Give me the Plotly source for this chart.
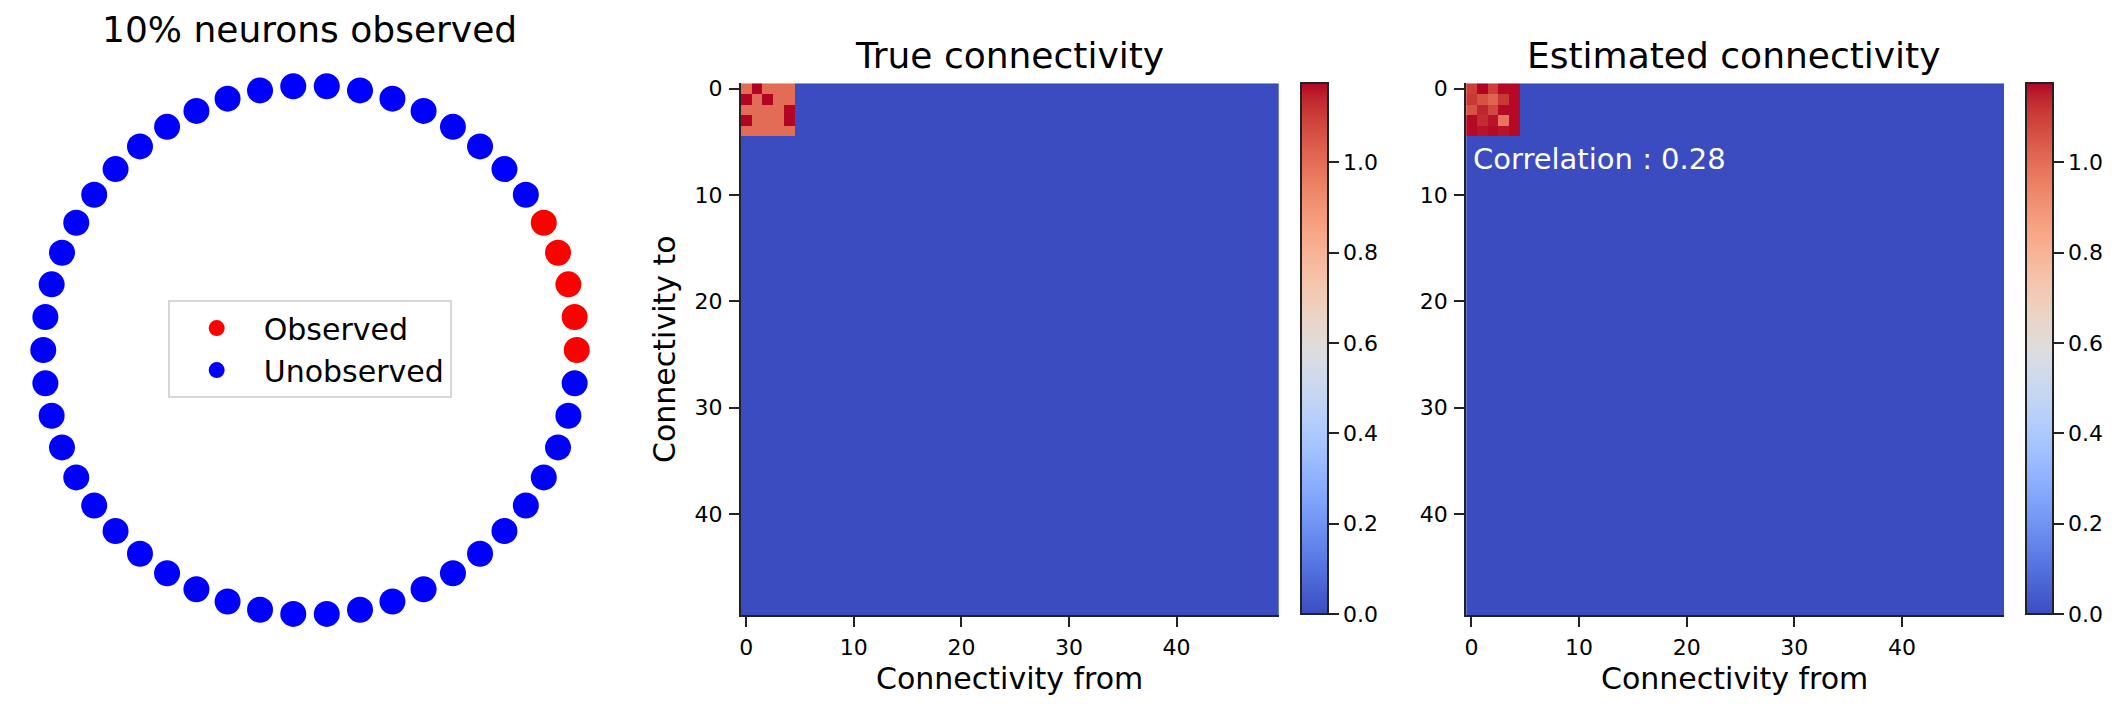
import numpy as np
import plotly.graph_objects as go

# === 1. Data ===
n_neurons = 50
observed_idx = [0, 1, 2, 3, 4]

# top-left 5x5 block of the connectivity matrices (rest is zero)
true_block = [
    [1.0, 1.175, 1.0, 1.0, 1.0],
    [1.175, 1.0, 1.175, 1.0, 1.0],
    [1.0, 1.0, 1.0, 1.0, 1.175],
    [1.175, 1.0, 1.0, 1.0, 1.175],
    [1.0, 1.0, 1.0, 1.0, 1.0],
]
est_block = [
    [1.10, 1.175, 1.10, 1.17, 1.17],
    [1.11, 1.06, 1.02, 1.11, 1.17],
    [1.06, 1.14, 1.08, 1.17, 1.17],
    [1.17, 1.13, 1.16, 0.98, 1.17],
    [1.17, 1.16, 1.17, 1.16, 1.17],
]
correlation = 0.28
cbar_ticks = [0.0, 0.2, 0.4, 0.6, 0.8, 1.0]
axis_ticks = [0, 10, 20, 30, 40]

# === 2. Build matrices ===
true_mat = np.zeros((n_neurons, n_neurons))
true_mat[:5, :5] = true_block
est_mat = np.zeros((n_neurons, n_neurons))
est_mat[:5, :5] = est_block

theta = 2 * np.pi * np.arange(n_neurons) / n_neurons
xs, ys = np.cos(theta), np.sin(theta)
is_obs = np.isin(np.arange(n_neurons), observed_idx)

# matplotlib "coolwarm"
coolwarm_rgb = [
    (59, 76, 192), (68, 90, 204), (77, 104, 215), (87, 117, 225), (98, 130, 234),
    (108, 142, 241), (119, 154, 247), (130, 165, 251), (141, 176, 254), (152, 185, 255),
    (163, 194, 255), (174, 201, 253), (184, 208, 249), (194, 213, 244), (204, 217, 238),
    (213, 219, 230), (221, 221, 221), (229, 216, 209), (236, 211, 197), (241, 204, 184),
    (245, 196, 172), (247, 187, 160), (247, 177, 148), (247, 166, 135), (244, 154, 123),
    (241, 141, 111), (236, 127, 99), (229, 112, 88), (222, 96, 77), (213, 80, 66),
    (203, 62, 56), (192, 40, 47), (180, 4, 38),
]
coolwarm = [[i / (len(coolwarm_rgb) - 1), f"rgb{c}"] for i, c in enumerate(coolwarm_rgb)]

W, H = 2123, 707
FONT = "DejaVu Sans"
ink = "#222222"

fig = go.Figure()

# === 3. Neuron ring ===
fig.add_trace(go.Scatter(
    x=xs[is_obs], y=ys[is_obs], mode="markers", name="Observed",
    marker=dict(color="red", size=26, line=dict(width=0)),
    xaxis="x", yaxis="y"
))
fig.add_trace(go.Scatter(
    x=xs[~is_obs], y=ys[~is_obs], mode="markers", name="Unobserved",
    marker=dict(color="blue", size=26, line=dict(width=0)),
    xaxis="x", yaxis="y"
))

# === 4. Heatmaps ===
cb_common = dict(
    thickness=27, thicknessmode="pixels", len=536 / H, lenmode="fraction",
    y=1 - 345 / H, yanchor="middle", xanchor="left", xpad=0, ypad=0,
    outlinewidth=2, outlinecolor=ink, ticks="outside", ticklen=10, tickwidth=2,
    tickcolor=ink, tickvals=cbar_ticks, tickformat=".1f",
    tickfont=dict(family=FONT, size=22, color="black"),
)
fig.add_trace(go.Heatmap(
    z=true_mat, x=np.arange(n_neurons), y=np.arange(n_neurons),
    colorscale=coolwarm, zmin=0, zmax=1.175, xaxis="x2", yaxis="y2",
    colorbar=dict(x=1300 / W, **cb_common), showlegend=False
))
fig.add_trace(go.Heatmap(
    z=est_mat, x=np.arange(n_neurons), y=np.arange(n_neurons),
    colorscale=coolwarm, zmin=0, zmax=1.175, xaxis="x3", yaxis="y3",
    colorbar=dict(x=2026 / W, **cb_common), showlegend=False
))

# === 5. Layout ===
hm_y = [1 - 614 / H, 1 - 77 / H]
hm_axis = dict(
    showline=True, linecolor=ink, linewidth=2, mirror=False, showgrid=False,
    zeroline=False, ticks="outside", ticklen=10, tickwidth=2, tickcolor=ink,
    tickvals=axis_ticks, tickfont=dict(family=FONT, size=22, color="black"),
    ticklabelstandoff=2,
)
layout = dict(
    width=W, height=H,
    margin=dict(l=0, r=0, t=0, b=0),
    paper_bgcolor="white", plot_bgcolor="white",
    font=dict(family=FONT, color="black"),
    xaxis=dict(domain=[14.6 / W, 602 / W], range=[-1.1, 1.1], visible=False),
    yaxis=dict(domain=[1 - 640.2 / H, 1 - 52.8 / H], range=[-1.1, 1.1], visible=False),
    xaxis2=dict(domain=[739.6 / W, 1278 / W], range=[-0.5, 49.5], anchor="y2", **hm_axis),
    yaxis2=dict(domain=hm_y, range=[49.5, -0.5], anchor="x2", **hm_axis),
    xaxis3=dict(domain=[1465.5 / W, 2004 / W], range=[-0.5, 49.5], anchor="y3", **hm_axis),
    yaxis3=dict(domain=hm_y, range=[49.5, -0.5], anchor="x3", **hm_axis),
    legend=dict(
        x=308 / W, y=1 - 345.5 / H, xanchor="center", yanchor="middle",
        bgcolor="white", bordercolor="#d6d6d6", borderwidth=2,
        font=dict(family=FONT, size=30, color="black"), itemsizing="trace",
        itemwidth=84,
    ),
)
fig.update_layout(layout)

titles = [
    ("10% neurons observed", 308, 23),
    ("True connectivity", 1008, 49),
    ("Estimated connectivity", 1734, 49),
]
for text, px, py in titles:
    fig.add_annotation(text=text, x=px / W, y=1 - py / H, xref="paper", yref="paper",
                       xanchor="center", yanchor="middle", showarrow=False,
                       font=dict(family=FONT, size=36, color="black"))

for cx in [1008, 1734]:
    fig.add_annotation(text="Connectivity from", x=cx / W, y=1 - 678 / H, xref="paper",
                       yref="paper", xanchor="center", yanchor="middle", showarrow=False,
                       font=dict(family=FONT, size=30, color="black"))
fig.add_annotation(text="Connectivity to", x=663 / W, y=1 - 345 / H, xref="paper",
                   yref="paper", xanchor="center", yanchor="middle", showarrow=False,
                   textangle=-90, font=dict(family=FONT, size=30, color="black"))

fig.add_annotation(text=f"Correlation : {correlation:.2f}", x=0, y=6.6, xref="x3", yref="y3",
                   xanchor="left", yanchor="middle", showarrow=False,
                   font=dict(family=FONT, size=29, color="white"))

fig.write_html("out.html", config={"displayModeBar": False},
               post_script="document.body.style.margin='0';")
